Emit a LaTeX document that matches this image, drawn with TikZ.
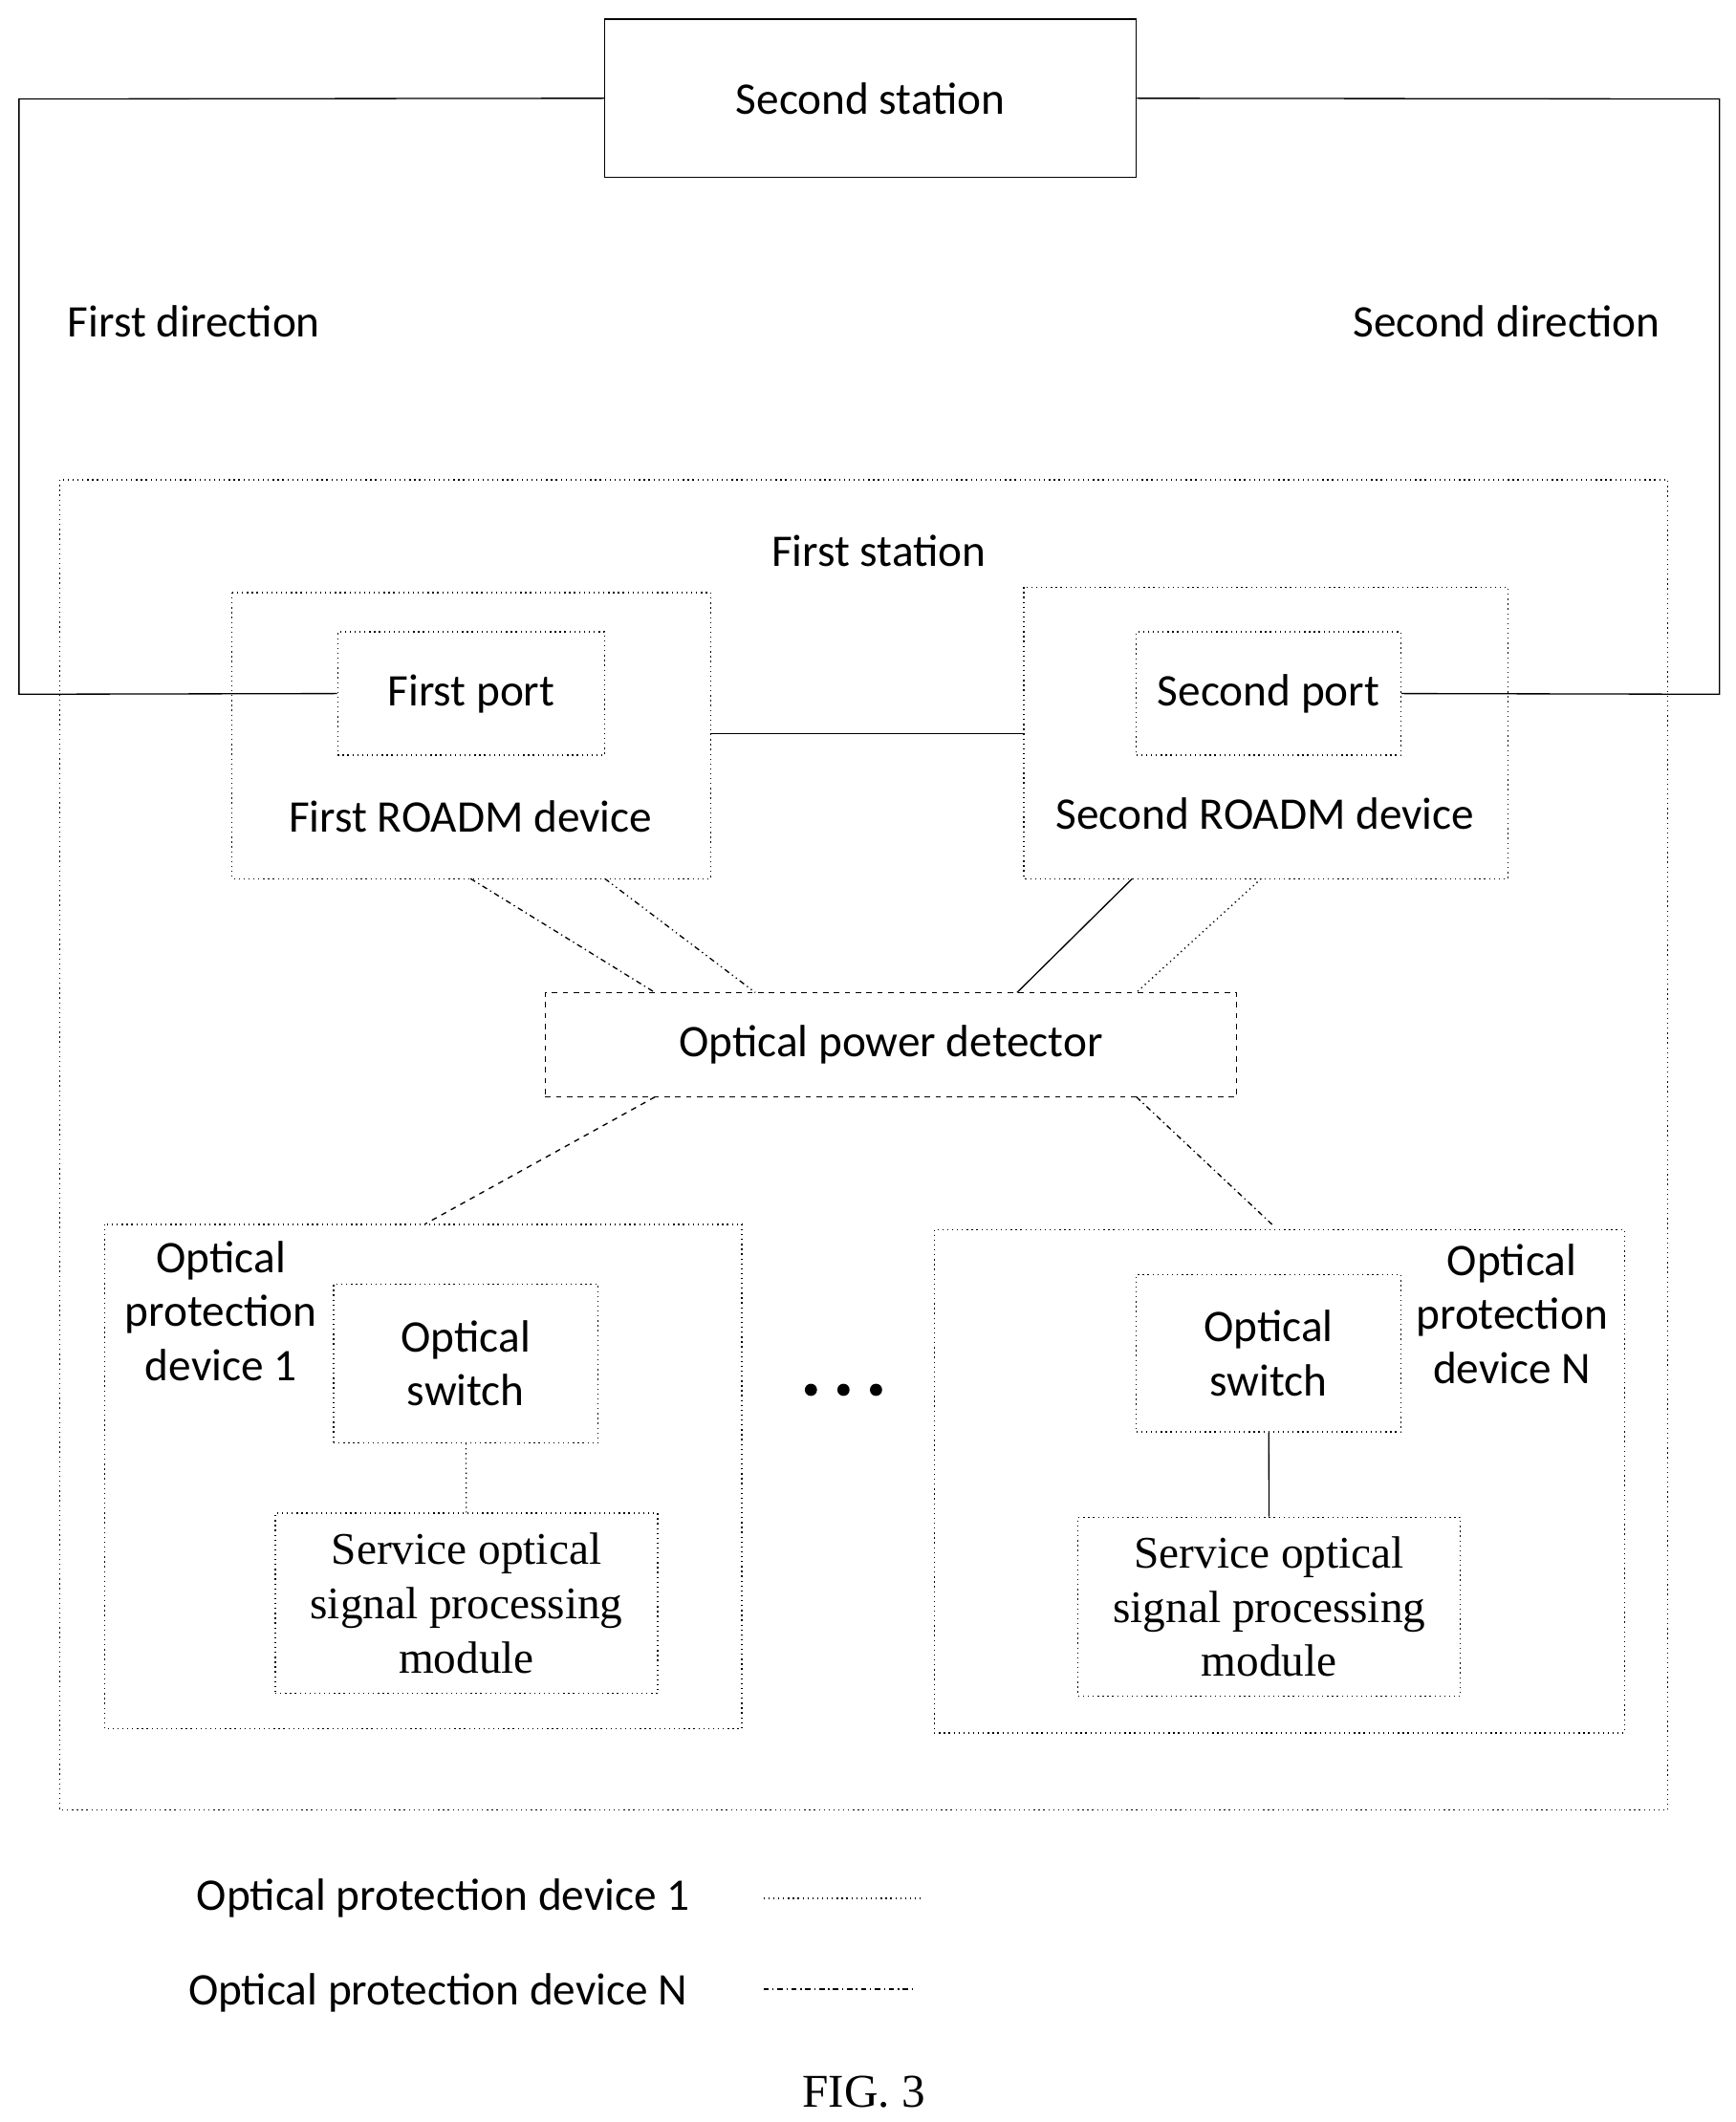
\documentclass[tikz,border=0pt]{standalone}
\usepackage{fontspec}
\setmainfont{Carlito}
\newfontfamily\serifface{Liberation Serif}
\begin{document}
\begin{tikzpicture}[x=0.75pt,y=0.75pt,yscale=-1,xscale=1,
  every node/.style={font=\fontsize{25}{30}\selectfont, align=center, inner sep=0pt},
  box/.style={draw, line width=0.7pt},
  dbox/.style={draw, line width=0.7pt, dotted},
  link/.style={line width=0.7pt}]
\useasboundingbox (0,0) rectangle (1280,1565);
% stations
\node [box, minimum width=294pt, minimum height=87.75pt] (st2) at (642,72.5) {Second station};
\draw [dbox] (44,354) rectangle (1230,1335);
\node (st1) at (648,406) {First station};
\node (dir1) at (143,237) {First direction};
\node (dir2) at (1111,237) {Second direction};
% ROADM devices
\draw [dbox] (171,437) rectangle (524,648);
\node [dbox, minimum width=147.75pt, minimum height=68.25pt] (p1) at (347.5,511.5) {First port};
\node (r1) at (347,602) {First ROADM device};
\draw [dbox] (755,433) rectangle (1112,648);
\node [dbox, minimum width=146.25pt, minimum height=68.25pt] (p2) at (935.5,511.5) {Second port};
\node (r2) at (933,600) {Second ROADM device};
\coordinate (r1e) at (524,541);
\coordinate (r2w) at (755,541);
% detector
\node [dbox, dashed, minimum width=382.5pt, minimum height=57.75pt] (det) at (657,770.5) {Optical power detector};
% protection device 1
\draw [dbox] (77,903) rectangle (547,1275);
\node (pd1) at (163,967) {Optical\\protection\\device 1};
\node [dbox, minimum width=146.25pt, minimum height=87.75pt] (sw1) at (343.5,1005.5) {Optical\\switch};
\node [dbox, minimum width=211.5pt, minimum height=99.75pt, font=\serifface\fontsize{25}{30}\selectfont] (sm1) at (344,1182.5) {Service optical\\signal processing\\module};
% protection device N
\draw [dbox] (689,907) rectangle (1198,1278);
\node (pdn) at (1115,969) {Optical\\protection\\device N};
\node [dbox, minimum width=146.25pt, minimum height=87pt] (swn) at (935.5,998) {Optical\\switch};
\node [dbox, minimum width=211.5pt, minimum height=99pt, font=\serifface\fontsize{25}{30}\selectfont] (smn) at (936,1185) {Service optical\\signal processing\\module};
\foreach \dx in {-24,0,24} \fill (622+\dx,1025) circle (4.5);
% outer links
\draw [link] (st2.west) -- (14,73) -- (14,512) -- (p1.west);
\draw [link] (st2.east) -- (1268,73) -- (1268,512) -- (p2.east);
\draw [link] (r1e) -- (r2w);
\draw [link, dash dot] (347,648) -- (483,732);
\draw [link, dash dot dot] (446,648) -- (557,732);
\draw [link] (835,648) -- (750,732);
\draw [link, dotted] (930,648) -- (838,732);
\draw [link, dashed] (483,809) -- (313,903);
\draw [link, dash dot] (838,809) -- (938,903);
\draw [link, dotted] (sw1) -- (sm1);
\draw [link] (swn) -- (smn);
% legend
\node (leg1) at (327,1400) {Optical protection device 1};
\node (legn) at (323,1470) {Optical protection device N};
\coordinate (l1a) at (563,1400); \coordinate (l1b) at (681,1400);
\coordinate (l2a) at (563,1467); \coordinate (l2b) at (673,1467);
\draw [link, dotted] (l1a) -- (l1b);
\draw [link, dash dot] (l2a) -- (l2b);
\node [font=\serifface\fontsize{26}{30}\selectfont] (fig) at (637,1543) {FIG. 3};
\end{tikzpicture}
\end{document}
